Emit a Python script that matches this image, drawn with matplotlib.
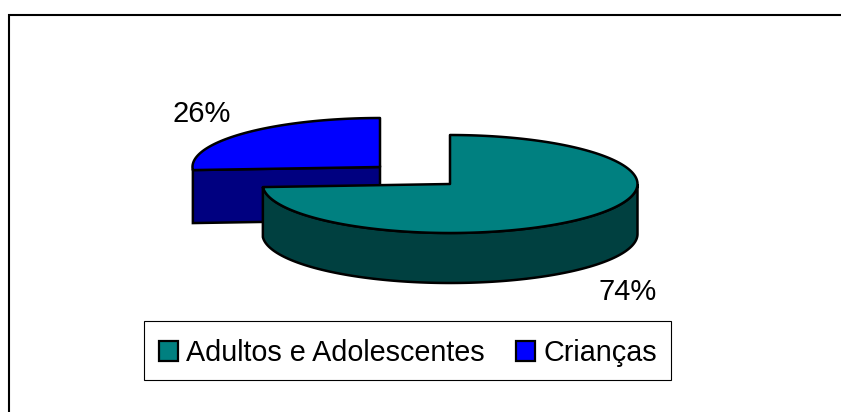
import numpy as np
import matplotlib
matplotlib.use("Agg")
import matplotlib.pyplot as plt
from matplotlib.patches import Polygon, Patch, Rectangle

labels = ["Adultos e Adolescentes", "Crianças"]
shares = [74, 26]
colors = ["#008080", "#0000FF"]
side_colors = ["#004040", "#000080"]
pct_labels = ["74%", "26%"]

plt.rcParams["font.family"] = ["Liberation Sans", "DejaVu Sans"]

W, H = 841, 412
RX, RY = 187.5, 49
# slice centres in pixels, the small slice is pulled out
centres = [(450, 184), (380, 167)]
depths = [50, 53]
edge = "black"
lw = 1.8


def rim(cx, cy, a0, a1):
    t = np.radians(np.linspace(a0, a1, 200))
    return np.column_stack([cx + RX * np.cos(t), cy - RY * np.sin(t)])


fig = plt.figure(figsize=(W / 100, H / 100), dpi=100)
ax = fig.add_axes([0, 0, 1, 1])
ax.set_xlim(0, W)
ax.set_ylim(H, 0)
ax.axis("off")

# outer frame of the chart, only left and top are inside the picture
ax.plot([9.5, 9.5, W + 2], [H + 2, 14.5, 14.5], color="black", lw=1.5, solid_joinstyle="miter")

# angles run clockwise from 12 o'clock
a_start = 90
a_split = a_start - 360 * shares[0] / sum(shares)
a_end = a_split - 360 * shares[1] / sum(shares)

# small slice goes behind, only its cut face shows
cx, cy = centres[1]
top = rim(cx, cy, a_split, a_end)
wall = np.vstack([[cx, cy], top[0], top[0] + [0, depths[1]], [cx, cy + depths[1]]])
ax.add_patch(Polygon(wall, fc=side_colors[1], ec=edge, lw=lw))
ax.add_patch(Polygon(np.vstack([[cx, cy], top]), fc=colors[1], ec=edge, lw=lw, joinstyle="round"))

# large slice
cx, cy = centres[0]
front = rim(cx, cy, a_split, 0)
ax.add_patch(Polygon(np.vstack([front, front[::-1] + [0, depths[0]]]), fc=side_colors[0], ec=edge, lw=lw))
top = rim(cx, cy, a_start, a_split)
ax.add_patch(Polygon(np.vstack([[cx, cy], top]), fc=colors[0], ec=edge, lw=lw, joinstyle="round"))

ax.text(627.5, 292, pct_labels[0], fontsize=21, ha="center", va="center")
ax.text(201.5, 113.5, pct_labels[1], fontsize=21, ha="center", va="center")

# legend box is taller than matplotlib would make it, so draw it apart
ax.add_patch(Rectangle((144, 321), 527, 59, fc="white", ec="black", lw=0.8))
handles = [Patch(fc=c, ec="black", lw=1.6) for c in colors]
ax.legend(handles, labels, ncol=2, loc="center", bbox_to_anchor=(408, 353),
          bbox_transform=ax.transData, fontsize=20.7, frameon=False,
          handlelength=0.66, handleheight=0.66, handletextpad=0.28,
          columnspacing=1.08, borderpad=0)

fig.savefig("out.png", dpi=100)
